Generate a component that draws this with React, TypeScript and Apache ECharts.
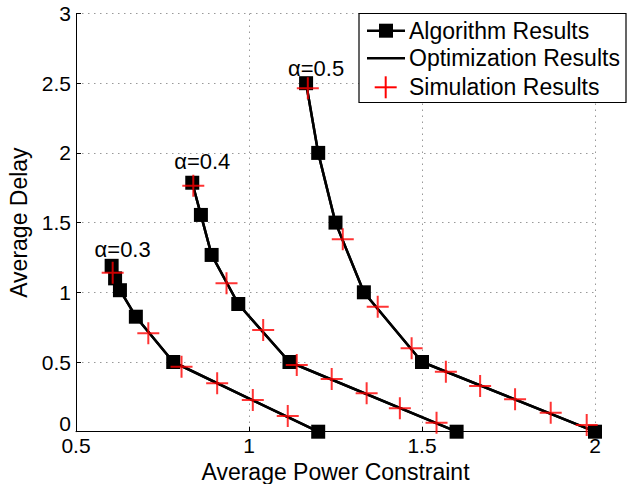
import React, { useEffect, useRef } from "react";
import * as echarts from "echarts";

const alphaLabels = ["α=0.3", "α=0.4", "α=0.5"];
const labelOffsets = [[11, -16], [10, -21], [10, -15]];

const algoX03 = [0.603, 0.613, 0.627, 0.673, 0.781, 1.2];
const algoY03 = [1.19, 1.1, 1.015, 0.825, 0.5, 0];
const algoX04 = [0.836, 0.861, 0.892, 0.969, 1.117, 1.6];
const algoY04 = [1.786, 1.555, 1.268, 0.916, 0.5, 0];
const algoX05 = [1.165, 1.2, 1.25, 1.332, 1.5, 2.0];
const algoY05 = [2.5, 2.0, 1.5, 1.0, 0.5, 0];

const simX03 = [0.606, 0.709, 0.805, 0.908, 1.011, 1.112];
const simY03 = [1.14, 0.706, 0.466, 0.347, 0.227, 0.113];
const simX04 = [0.839, 0.935, 1.041, 1.138, 1.239, 1.34, 1.436, 1.542];
const simY04 = [1.765, 1.065, 0.73, 0.478, 0.378, 0.275, 0.168, 0.065];
const simX05 = [1.17, 1.271, 1.372, 1.47, 1.569, 1.668, 1.769, 1.872, 1.976];
const simY05 = [2.463, 1.38, 0.897, 0.598, 0.43, 0.328, 0.232, 0.136, 0.048];

const xTicks = [0.5, 1, 1.5, 2];
const yTicks = [0, 0.5, 1, 1.5, 2, 2.5, 3];

const legendNames = ["Algorithm Results", "Optimization Results", "Simulation Results"];

const FONT = "'Liberation Sans', Arial, Helvetica, sans-serif";
const CROSS = "path://M0,10H10V0H12V10H22V12H12V22H10V12H0Z";

const zip = (xs: number[], ys: number[]) => xs.map((x, i) => [x, ys[i]]);

export default function App() {
  const ref = useRef<HTMLDivElement>(null);
  useEffect(() => {
    document.body.style.margin = "0";
    if (!ref.current) return;
    const chart = echarts.init(ref.current, null, { renderer: "svg" });

    const algo = [zip(algoX03, algoY03), zip(algoX04, algoY04), zip(algoX05, algoY05)];
    const sim = [zip(simX03, simY03), zip(simX04, simY04), zip(simX05, simY05)];

    const series: any[] = [];
    algo.forEach((pts) => {
      series.push({
        name: legendNames[1],
        type: "line",
        data: pts,
        symbol: "none",
        lineStyle: { color: "#000", width: 2.5 },
        z: 2,
      });
    });
    algo.forEach((pts, k) => {
      series.push({
        name: legendNames[0],
        type: "line",
        data: pts.map((p, i) =>
          i === 0
            ? {
                value: p,
                label: {
                  show: true,
                  formatter: alphaLabels[k],
                  position: "inside",
                  offset: labelOffsets[k],
                  color: "#000",
                  fontSize: 22,
                  fontFamily: FONT,
                },
              }
            : { value: p }
        ),
        symbol: "rect",
        symbolSize: 14,
        itemStyle: { color: "#000" },
        lineStyle: { color: "#000", width: 2.5 },
        z: 3,
      });
    });
    sim.forEach((pts) => {
      series.push({
        name: legendNames[2],
        type: "scatter",
        data: pts,
        symbol: CROSS,
        symbolSize: 22,
        itemStyle: { color: "#ff0000" },
        z: 4,
      });
    });

    const lx = 359, ly = 13.5, lw = 267, lh = 89;
    const rows = [30.7, 58.3, 87.3];
    const graphic: any[] = [
      { type: "rect", shape: { x: lx, y: ly, width: lw, height: lh }, style: { fill: "#fff", stroke: "#000", lineWidth: 1.2 }, z: 100 },
      { type: "line", shape: { x1: 367, y1: rows[0], x2: 405, y2: rows[0] }, style: { stroke: "#000", lineWidth: 2.5 }, z: 101 },
      { type: "rect", shape: { x: 379, y: rows[0] - 7, width: 14, height: 14 }, style: { fill: "#000" }, z: 102 },
      { type: "line", shape: { x1: 367, y1: rows[1], x2: 405, y2: rows[1] }, style: { stroke: "#000", lineWidth: 2.5 }, z: 101 },
      { type: "line", shape: { x1: 374.7, y1: rows[2], x2: 396.7, y2: rows[2] }, style: { stroke: "#ff0000", lineWidth: 2 }, z: 101 },
      { type: "line", shape: { x1: 385.7, y1: rows[2] - 11, x2: 385.7, y2: rows[2] + 11 }, style: { stroke: "#ff0000", lineWidth: 2 }, z: 101 },
    ];
    legendNames.forEach((n, i) => {
      graphic.push({
        type: "text",
        x: 409,
        y: rows[i],
        style: { text: n, fill: "#000", fontSize: 23, fontFamily: FONT, verticalAlign: "middle", align: "left" },
        z: 103,
      });
    });

    chart.setOption({
      animation: false,
      backgroundColor: "#fff",
      grid: { left: 76, right: 42, top: 13.5, bottom: 52.3, outerBoundsMode: "none", containLabel: false },
      xAxis: {
        type: "value",
        min: xTicks[0],
        max: xTicks[xTicks.length - 1],
        interval: 0.5,
        name: "Average Power Constraint",
        nameLocation: "middle",
        nameGap: 19,
        nameTextStyle: { color: "#000", fontSize: 23, fontFamily: FONT },
        axisLine: { show: true, onZero: false, lineStyle: { color: "#000", width: 1 } },
        axisTick: { show: true, inside: true, length: 5, lineStyle: { color: "#000" } },
        axisLabel: { color: "#000", fontSize: 21, fontFamily: FONT, margin: 3 },
        splitLine: { show: true, lineStyle: { color: "#999", type: [1.5, 4.5], width: 1 } },
      },
      yAxis: {
        type: "value",
        min: yTicks[0],
        max: yTicks[yTicks.length - 1],
        interval: 0.5,
        name: "Average Delay",
        nameLocation: "middle",
        nameGap: 41,
        nameTextStyle: { color: "#000", fontSize: 23, fontFamily: FONT },
        axisLine: { show: true, onZero: false, lineStyle: { color: "#000", width: 1 } },
        axisTick: { show: true, inside: true, length: 5, lineStyle: { color: "#000" } },
        axisLabel: {
          color: "#000",
          fontSize: 21,
          fontFamily: FONT,
          margin: 5,
          formatter: (v: number) => (v === 0 ? "{z|0}" : String(v)),
          rich: { z: { color: "#000", fontSize: 21, fontFamily: FONT, padding: [0, 0, 16, 0] } },
        },
        splitLine: { show: true, lineStyle: { color: "#999", type: [1.5, 4.5], width: 1 } },
      },
      graphic,
      series,
    });
    return () => chart.dispose();
  }, []);
  return <div ref={ref} style={{ width: 637, height: 484 }} />;
}
